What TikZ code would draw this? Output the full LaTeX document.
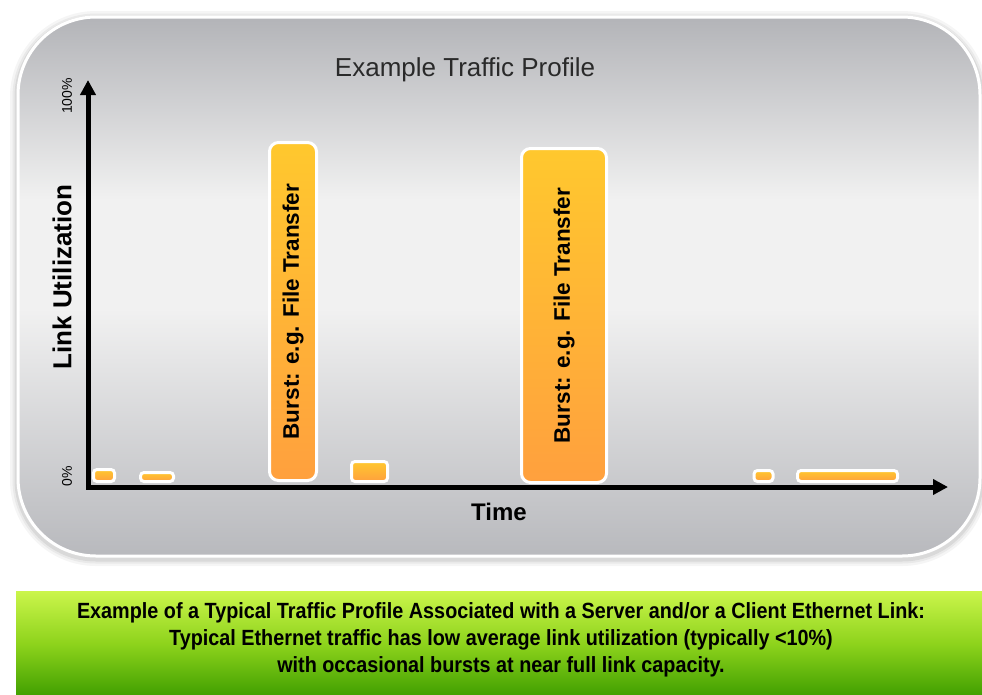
\documentclass[tikz,border=0pt]{standalone}
\usepackage{fontspec}
\setmainfont{Liberation Sans}
\newfontfamily\narrowfont[FakeStretch=0.9]{Liberation Sans}
\usetikzlibrary{positioning, arrows.meta}

\definecolor{pnlTop}{HTML}{B3B4B8}
\definecolor{pnlMid}{HTML}{F1F1F1}
\definecolor{pnlBot}{HTML}{B8B9BD}
\definecolor{barTop}{HTML}{FFC82E}
\definecolor{barBot}{HTML}{FFA03E}
\definecolor{grnTop}{HTML}{CCF64C}
\definecolor{grnMid}{HTML}{8ED31C}
\definecolor{grnBot}{HTML}{3F9E00}
\definecolor{titleGray}{HTML}{2A2A2A}

\pgfdeclareverticalshading{panelshade}{100bp}{
    color(0bp)=(pnlBot); color(25bp)=(pnlBot); color(48bp)=(pnlMid);
    color(58bp)=(pnlMid); color(75bp)=(pnlTop); color(100bp)=(pnlTop)}

\begin{document}
\begin{tikzpicture}[x=1pt, y=-1pt,
        bar/.style={rounded corners=3.5, draw=white, line width=3,
                    top color=barTop, bottom color=barBot, inner sep=0pt},
        burst/.style={bar, rounded corners=9,
                      font=\bfseries\fontsize{22.5}{26}\selectfont},
        axis/.style={line width=5, line join=miter,
                     {Triangle[length=15pt, width=15pt]}-{Triangle[length=15pt, width=15pt]}},
        pct/.style={font=\fontsize{14}{16}\selectfont, rotate=90}]
        \useasboundingbox (0,0) rectangle (982,694);

        % panel with soft shadow
        \foreach \w/\o in {16/0.04, 11/0.05, 7/0.07} {
            \draw[line width=\w, black, opacity=\o, rounded corners=78] (18,19) rectangle (980,558);
        }
        \shade[rounded corners=78, shading=panelshade] (18,17) rectangle (980,556);
        \draw[white, line width=3, rounded corners=78] (18,17) rectangle (980,556);

        \node[font=\fontsize{26}{30}\selectfont, text=titleGray] (title) at (465,70) {Example Traffic Profile};

        % axes
        \coordinate (origin) at (88,487);
        \coordinate (ytop) at (88,80);
        \coordinate (xend) at (948,487);
        \draw[axis] (ytop) -- (origin) -- (xend);

        \node[pct] (full) at (67,96) {100\%};
        \node[pct] (zero) at (67,476) {0\%};
        \node[font=\bfseries\fontsize{26}{30}\selectfont, rotate=90] (ylabel) at (62,277) {Link Utilization};
        \node[font=\bfseries\fontsize{24}{28}\selectfont] (xlabel) at (499,512) {Time};

        % bursts and small traffic
        \node[burst, minimum width=47, minimum height=338] (burstA) at (293,311.5)
            {\rotatebox{90}{Burst: e.g. File Transfer}};
        \node[burst, minimum width=85, minimum height=334] (burstB) at (564,315.5)
            {\rotatebox{90}{Burst: e.g. File Transfer}};

        \node[bar, minimum width=21, minimum height=12] (lowA) at (104,475.5) {};
        \node[bar, minimum width=33, minimum height=9] (lowB) at (157,477) {};
        \node[bar, minimum width=36, minimum height=20] (lowC) at (369.5,471.5) {};
        \node[bar, minimum width=19, minimum height=11] (lowD) at (763.5,476) {};
        \node[bar, minimum width=100, minimum height=11] (lowE) at (847.5,476) {};

        % caption
        \shade[top color=grnTop, bottom color=grnBot, middle color=grnMid] (15,590) rectangle (985,697);
        \draw[white, line width=1.5] (15,697) -- (15,590) -- (985,590);
        \node[align=center, font=\narrowfont\bfseries\fontsize{22}{27}\selectfont] (caption) at (501,640)
            {Example of a Typical Traffic Profile Associated with a Server and/or a Client Ethernet Link:\\
             Typical Ethernet traffic has low average link utilization (typically <10\%)\\
             with occasional bursts at near full link capacity.};
\end{tikzpicture}
\end{document}
